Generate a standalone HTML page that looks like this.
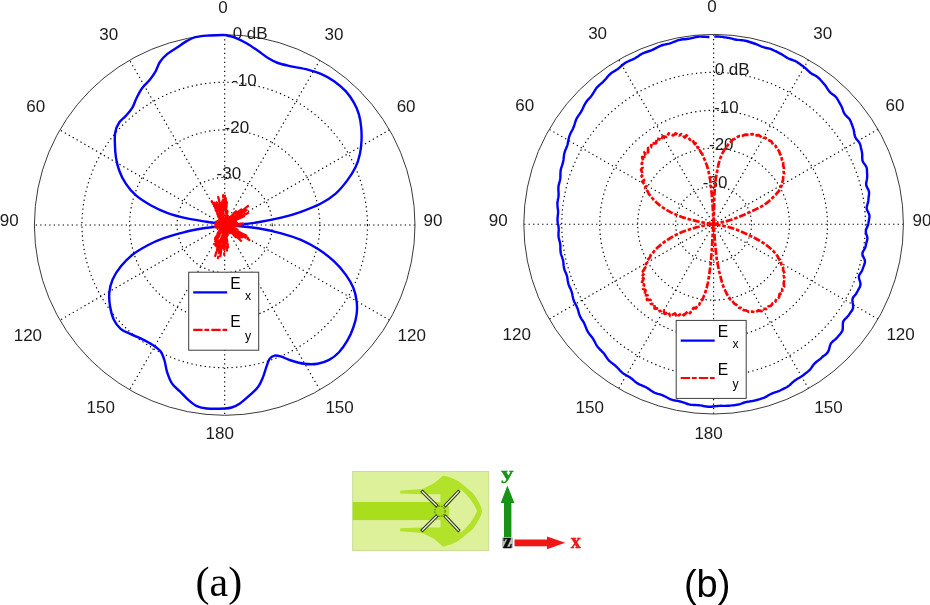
<!DOCTYPE html>
<html><head><meta charset="utf-8"><title>Radiation patterns</title>
<style>
html,body{margin:0;padding:0;background:#fff;}
body{width:930px;height:605px;overflow:hidden;position:relative;}
svg{position:absolute;left:0;top:0;display:block;will-change:transform;-webkit-font-smoothing:antialiased;}
.t text{font-family:"Liberation Sans",Arial,sans-serif;font-size:17.0px;fill:#1c1c1c;}
.t text.lg{font-size:15.7px;fill:#000;}
.t text.sub{font-size:12.3px;fill:#000;}
.dot{fill:none;stroke:#000;stroke-width:1.15;stroke-dasharray:1.3 3.2;}
.rim{fill:none;stroke:#3a3a3a;stroke-width:1;}
.blue{fill:none;stroke:#0000ff;stroke-width:2.4;stroke-linejoin:round;stroke-linecap:butt;}
.red{fill:none;stroke:#ff0000;stroke-width:2.2;stroke-dasharray:9.4 1.8 4.8 2.1;stroke-linejoin:round;}
.lobe{stroke-width:2.7;stroke-dasharray:7 1.8 3.6 1.8;}
.ax{font-family:"Liberation Serif",serif;font-weight:bold;font-size:20px;stroke-width:.5;}
.capa{font-family:"Liberation Serif","Times New Roman",serif;font-size:42px;fill:#000;}
.capb{font-family:"Liberation Sans",Arial,sans-serif;font-size:38px;fill:#000;}
</style></head><body>
<svg width="930" height="605" viewBox="0 0 930 605">
<defs>
<filter id="soft" x="-5%" y="-5%" width="110%" height="110%"><feGaussianBlur stdDeviation="0.55"/></filter>
<filter id="soft2" x="-10%" y="-10%" width="120%" height="120%"><feGaussianBlur stdDeviation="0.5"/></filter>
</defs>
<circle cx="224.7" cy="225.0" r="47.58" class="dot"/><circle cx="224.7" cy="225.0" r="95.15" class="dot"/><circle cx="224.7" cy="225.0" r="142.73" class="dot"/><line x1="224.7" y1="34.7" x2="224.7" y2="415.3" class="dot"/><line x1="319.8" y1="60.2" x2="129.6" y2="389.8" class="dot"/><line x1="389.5" y1="129.8" x2="59.9" y2="320.2" class="dot"/><line x1="415.0" y1="225.0" x2="34.4" y2="225.0" class="dot"/><line x1="389.5" y1="320.1" x2="59.9" y2="129.9" class="dot"/><line x1="319.8" y1="389.8" x2="129.6" y2="60.2" class="dot"/><circle cx="224.7" cy="225.0" r="190.30" class="rim"/>
<circle cx="713.6" cy="224.2" r="37.96" class="dot"/><circle cx="713.6" cy="224.2" r="75.92" class="dot"/><circle cx="713.6" cy="224.2" r="113.88" class="dot"/><circle cx="713.6" cy="224.2" r="151.84" class="dot"/><line x1="713.6" y1="34.4" x2="713.6" y2="414.0" class="dot"/><line x1="808.5" y1="59.8" x2="618.7" y2="388.6" class="dot"/><line x1="878.0" y1="129.3" x2="549.2" y2="319.1" class="dot"/><line x1="903.4" y1="224.2" x2="523.8" y2="224.2" class="dot"/><line x1="878.0" y1="319.1" x2="549.2" y2="129.3" class="dot"/><line x1="808.5" y1="388.6" x2="618.7" y2="59.8" class="dot"/><circle cx="713.6" cy="224.2" r="189.80" class="rim"/>
<g class="t"><text x="223.0" y="12.6" text-anchor="middle">0</text><text x="108.7" y="39.6" text-anchor="middle">30</text><text x="333.9" y="39.6" text-anchor="middle">30</text><text x="35.8" y="111.8" text-anchor="middle">60</text><text x="406.1" y="111.8" text-anchor="middle">60</text><text x="9.3" y="226.3" text-anchor="middle">90</text><text x="433.0" y="226.3" text-anchor="middle">90</text><text x="27.9" y="340.5" text-anchor="middle">120</text><text x="411.7" y="340.5" text-anchor="middle">120</text><text x="100.8" y="413.2" text-anchor="middle">150</text><text x="339.6" y="413.2" text-anchor="middle">150</text><text x="219.7" y="439.1" text-anchor="middle">180</text><text x="711.9" y="12.0" text-anchor="middle">0</text><text x="597.6" y="39.0" text-anchor="middle">30</text><text x="822.8" y="39.0" text-anchor="middle">30</text><text x="524.7" y="111.2" text-anchor="middle">60</text><text x="895.0" y="111.2" text-anchor="middle">60</text><text x="498.2" y="225.7" text-anchor="middle">90</text><text x="921.9" y="225.7" text-anchor="middle">90</text><text x="516.8" y="339.9" text-anchor="middle">120</text><text x="900.6" y="339.9" text-anchor="middle">120</text><text x="589.7" y="412.6" text-anchor="middle">150</text><text x="828.5" y="412.6" text-anchor="middle">150</text><text x="708.6" y="438.5" text-anchor="middle">180</text><text x="232.7" y="38.5">0 dB</text><text x="232.1" y="85.5">-10</text><text x="224.6" y="133.2">-20</text><text x="216.6" y="179.4">-30</text><text x="714.7" y="75.3">0 dB</text><text x="714.1" y="113.2">-10</text><text x="709.0" y="150.4">-20</text><text x="702.8" y="187.6">-30</text></g>
<path d="M224.7 34.9C226.4 35.4 231.3 36.2 234.9 37.6C238.5 39.0 242.7 41.0 246.5 43.2C250.3 45.4 254.4 48.3 258.0 50.8C261.6 53.3 264.7 56.0 268.0 58.0C271.3 60.0 274.0 61.6 277.9 63.0C281.8 64.4 286.2 65.2 291.1 66.3C296.1 67.4 302.6 68.3 307.6 69.6C312.6 70.9 316.5 72.0 320.9 73.9C325.3 75.8 330.0 78.3 334.1 81.2C338.2 84.1 342.4 87.5 345.7 91.1C349.0 94.7 351.7 98.8 353.9 102.7C356.1 106.6 357.7 110.2 358.9 114.3C360.1 118.4 360.8 123.1 361.2 127.5C361.6 131.9 361.7 136.3 361.5 140.7C361.3 145.1 360.9 149.5 359.9 153.9C358.9 158.3 357.7 162.7 355.6 167.1C353.5 171.5 350.6 176.0 347.3 180.4C344.0 184.8 340.1 189.8 335.7 193.6C331.3 197.4 326.7 200.5 320.9 203.5C315.1 206.5 307.6 209.4 301.0 211.8C294.4 214.2 288.4 215.9 281.2 217.7C274.0 219.4 264.6 221.2 258.0 222.3C251.4 223.4 247.1 223.9 241.5 224.3C235.9 224.8 225.2 224.7 224.7 225.0C224.1 225.3 232.6 225.4 238.2 226.0C243.8 226.6 250.8 227.1 258.0 228.3C265.2 229.5 274.0 231.4 281.2 233.3C288.4 235.2 294.7 237.2 301.0 239.9C307.3 242.7 313.7 246.2 319.2 249.8C324.7 253.4 329.7 257.3 334.1 261.4C338.5 265.5 342.5 270.2 345.7 274.6C348.9 279.0 351.5 283.4 353.3 287.8C355.1 292.2 356.1 296.6 356.6 301.0C357.2 305.4 357.2 309.9 356.6 314.3C356.1 318.7 354.9 323.1 353.3 327.5C351.8 331.9 349.7 336.6 347.3 340.7C344.9 344.8 342.0 349.1 339.0 352.3C336.0 355.5 332.7 358.0 329.1 359.9C325.5 361.8 321.7 363.1 317.6 363.8C313.5 364.5 308.7 364.4 304.3 363.8C299.9 363.2 295.0 361.7 291.1 360.5C287.2 359.3 283.9 357.4 281.2 356.6C278.4 355.8 276.5 355.2 274.6 355.6C272.7 356.0 271.0 357.0 269.6 358.9C268.2 360.8 267.4 364.1 266.3 367.1C265.2 370.1 264.4 373.8 263.0 377.1C261.6 380.4 260.2 384.0 258.0 387.0C255.8 390.0 252.8 392.4 249.8 395.2C246.8 397.9 242.9 401.4 239.9 403.5C236.9 405.6 234.1 406.7 231.6 407.5C229.1 408.3 228.8 408.3 224.7 408.5C220.6 408.7 211.4 408.9 206.8 408.5C202.2 408.1 199.9 407.6 196.9 406.2C193.9 404.8 191.3 402.6 188.6 400.2C185.8 397.8 183.2 394.6 180.4 391.9C177.7 389.1 174.3 387.0 172.1 383.7C169.9 380.4 168.4 376.0 167.1 372.1C165.8 368.2 165.6 364.0 164.5 360.5C163.4 357.0 162.5 353.9 160.5 351.3C158.5 348.7 155.6 346.9 152.3 344.7C149.0 342.5 144.3 340.2 140.7 338.4C137.1 336.6 134.1 335.7 130.8 334.1C127.5 332.6 123.8 331.6 120.9 329.1C118.0 326.6 115.4 323.1 113.6 319.2C111.8 315.3 110.7 310.4 110.0 306.0C109.3 301.6 108.9 297.2 109.3 292.8C109.7 288.4 110.7 283.9 112.6 279.5C114.5 275.1 117.6 270.4 120.9 266.3C124.2 262.2 128.0 258.3 132.4 254.8C136.8 251.3 142.1 248.3 147.3 245.5C152.5 242.7 157.7 240.4 163.8 238.2C169.9 236.0 177.1 234.0 183.7 232.3C190.3 230.7 196.7 229.5 203.5 228.3C210.3 227.1 224.1 226.1 224.7 225.0C225.2 223.9 213.1 222.8 206.8 221.7C200.5 220.6 193.6 219.9 187.0 218.4C180.4 216.9 173.2 215.0 167.1 212.8C161.0 210.6 155.8 208.1 150.6 205.2C145.4 202.3 139.8 198.8 135.7 195.2C131.6 191.6 128.5 187.8 125.8 183.7C123.0 179.6 120.8 174.9 119.2 170.5C117.6 166.1 116.6 161.6 115.9 157.2C115.2 152.8 115.0 148.1 114.9 144.0C114.8 139.9 114.5 136.0 115.2 132.4C115.9 128.8 117.4 125.2 119.2 122.5C121.0 119.8 123.6 118.4 125.8 115.9C128.0 113.4 130.6 110.6 132.4 107.6C134.2 104.6 135.0 101.0 136.7 97.7C138.4 94.4 140.2 90.8 142.4 87.8C144.6 84.8 147.8 82.2 150.0 79.5C152.2 76.8 153.9 74.2 155.6 71.3C157.2 68.4 158.0 64.9 159.9 62.0C161.8 59.1 164.2 56.5 167.1 54.1C169.9 51.7 173.7 49.7 177.0 47.5C180.3 45.3 184.0 42.6 187.0 40.9C190.0 39.2 191.9 38.1 195.2 37.2C198.5 36.3 201.9 36.0 206.8 35.6C211.7 35.2 221.7 35.0 224.7 34.9" class="blue"/>
<path d="M224.9 198.9L225.3 208.3L225.8 198.2L226.0 210.4L226.9 202.3L225.2 221.0L227.1 209.2L225.4 221.5L227.6 211.3L225.1 223.3L226.5 218.2L225.2 223.3L227.9 215.9L226.5 220.2L227.3 218.3L226.1 221.9L227.8 218.3L225.2 224.0L226.6 221.3L224.9 224.6L228.1 219.4L226.5 222.2L230.2 217.0L229.7 217.9L234.5 212.5L230.9 217.3L237.1 210.1L227.4 222.1L237.2 212.2L236.9 212.8L241.3 209.5L227.4 222.7L248.1 205.9L239.3 213.2L243.5 211.1L231.1 220.6L246.7 210.2L228.7 222.4L240.8 215.6L228.3 222.9L249.4 212.2L228.8 223.0L244.0 216.3L226.2 224.4L232.5 222.0L226.3 224.4L236.0 221.4L225.8 224.7L230.6 223.5L227.9 224.3L236.0 222.8L229.2 224.2L237.1 223.1L227.0 224.7L243.1 223.5L230.8 224.6L235.2 224.5L234.7 224.8L241.8 225.4L232.2 225.4L236.8 225.9L229.4 225.5L235.8 226.3L229.1 225.7L229.1 225.8L228.3 225.7L232.7 226.9L227.0 225.6L234.3 227.9L231.2 227.2L237.6 229.8L230.5 227.3L236.8 230.2L231.7 228.2L246.3 235.6L237.1 231.5L248.1 237.9L237.8 232.8L249.4 240.0L232.7 230.4L241.9 237.3L226.6 226.4L241.5 238.0L230.4 229.6L239.8 238.0L230.5 230.5L242.1 241.9L225.6 226.0L235.9 237.2L231.9 233.3L230.6 232.3L228.1 229.4L231.0 234.0L226.5 227.6L229.2 231.9L226.4 227.8L228.5 231.9L225.6 226.7L226.3 228.1L226.0 227.8L227.5 231.6L225.7 227.4L227.0 231.4L226.7 231.1L227.9 234.9L225.9 229.4L227.3 235.8L225.5 228.6L226.9 236.3L225.4 229.6L228.1 247.4L225.2 230.3L227.0 250.6L224.9 229.0L225.2 246.3L224.7 238.1L224.2 254.9L224.3 232.3L222.8 249.3L223.6 235.6L220.4 256.1L223.6 231.5L217.9 258.2L224.2 227.0L218.2 250.5L221.0 238.3L214.9 256.9L219.2 241.8L216.5 246.4L218.4 240.3L215.4 246.8L217.9 240.0L214.8 244.7L221.9 230.4L214.5 242.5L222.6 228.4L214.5 240.6L220.0 231.7L215.1 238.1L220.2 230.9L217.6 233.5L223.8 226.1L217.9 232.7L222.8 227.0L219.2 230.5L223.0 226.6L221.3 228.0L221.3 227.9L219.7 229.0L222.5 226.6L219.7 228.7L223.7 225.6L218.8 228.6L221.7 226.8L218.3 228.6L222.0 226.4L219.3 227.6L223.4 225.6L217.2 228.2L223.8 225.4L217.1 227.7L221.8 226.0L216.1 227.7L223.9 225.2L215.2 227.2L223.6 225.2L216.2 226.4L220.8 225.6L218.3 225.8L222.3 225.2L218.8 225.3L219.8 225.2L215.3 225.1L221.0 224.9L217.3 224.8L223.1 224.9L215.2 224.1L224.2 224.9L215.3 223.5L221.7 224.5L218.9 223.8L222.2 224.4L219.0 223.5L223.4 224.6L218.7 223.0L219.6 223.2L216.0 221.6L222.0 223.8L219.8 222.8L221.2 223.3L219.8 222.5L223.3 224.2L219.0 221.6L223.0 224.0L219.8 221.7L223.7 224.3L218.8 220.4L222.8 223.4L221.5 222.4L222.8 223.4L219.1 219.7L222.9 223.3L220.7 220.7L220.0 220.0L218.9 218.4L223.9 224.0L217.0 215.1L223.9 223.9L217.4 214.4L220.3 218.4L215.5 210.2L217.3 211.9L211.7 201.1L220.0 215.6L213.6 201.4L219.0 211.4L216.0 203.5L222.6 219.5L216.7 202.4L219.4 208.4L219.0 205.5L223.9 221.7L218.2 196.9L221.6 210.1L221.0 203.4L224.2 221.4L222.3 201.2L223.3 206.7L223.1 195.1L224.3 209.0L224.9 194.7" class="red"/>
<path d="M714.3 36.6L715.9 36.5L717.5 36.5L719.2 36.6L720.8 36.8L722.4 36.9L724.1 37.2L725.7 37.4L727.3 37.7L728.9 37.9L730.5 38.3L732.1 38.7L733.7 39.2L735.3 39.5L736.9 39.8L738.5 39.9L740.1 40.1L741.8 40.2L743.4 40.4L745.0 40.7L746.6 41.0L748.1 41.5L749.7 42.0L751.2 42.5L752.8 43.0L754.3 43.5L755.9 44.0L757.4 44.7L758.9 45.3L760.4 46.0L761.8 46.6L763.4 47.2L764.9 47.6L766.5 48.0L768.0 48.3L769.6 48.7L771.1 49.2L772.6 49.8L774.1 50.5L775.5 51.2L777.0 51.9L778.4 52.6L779.9 53.4L781.3 54.1L782.7 55.0L784.0 55.8L785.4 56.7L786.7 57.6L788.1 58.3L789.6 59.0L791.1 59.5L792.6 60.0L794.1 60.6L795.6 61.2L797.0 62.0L798.3 62.9L799.6 63.8L800.9 64.7L802.2 65.7L803.5 66.6L804.8 67.6L806.0 68.6L807.1 69.8L808.3 70.9L809.5 72.0L810.7 73.0L812.0 73.9L813.4 74.6L814.8 75.3L816.1 76.1L817.4 77.0L818.6 78.0L819.8 79.1L820.8 80.3L821.9 81.5L823.0 82.7L824.0 83.9L825.0 85.1L826.0 86.4L826.9 87.8L827.7 89.1L828.6 90.5L829.6 91.7L830.7 92.8L831.9 93.8L833.1 94.7L834.4 95.6L835.5 96.6L836.5 97.8L837.4 99.1L838.2 100.5L839.0 101.9L839.7 103.2L840.5 104.6L841.3 106.0L841.9 107.4L842.5 108.9L843.0 110.5L843.6 112.0L844.3 113.4L845.1 114.6L846.1 115.7L847.2 116.8L848.3 117.8L849.3 118.9L850.1 120.2L850.8 121.6L851.3 123.0L851.9 124.5L852.4 125.9L852.9 127.4L853.4 128.8L853.8 130.3L854.1 131.9L854.3 133.5L854.6 135.1L855.0 136.5L855.6 137.9L856.4 139.1L857.4 140.2L858.4 141.3L859.2 142.5L859.9 143.8L860.4 145.2L860.7 146.6L861.0 148.1L861.4 149.6L861.7 151.0L862.0 152.5L862.2 154.0L862.3 155.5L862.2 157.1L862.3 158.6L862.4 160.1L862.8 161.5L863.5 162.7L864.4 163.9L865.3 165.1L866.0 166.3L866.6 167.6L866.9 169.0L867.0 170.5L867.0 172.0L867.1 173.4L867.2 174.9L867.2 176.4L867.1 177.8L866.9 179.4L866.6 180.9L866.3 182.4L866.1 183.9L866.3 185.3L866.7 186.6L867.3 187.9L868.0 189.1L868.6 190.4L869.0 191.7L869.1 193.1L869.0 194.6L868.8 196.0L868.6 197.4L868.5 198.8L868.4 200.2L868.2 201.7L867.8 203.1L867.4 204.5L867.0 205.9L866.7 207.3L866.7 208.6L867.1 210.0L867.7 211.3L868.4 212.6L869.0 213.9L869.4 215.2L869.5 216.6L869.3 217.9L869.1 219.3L868.8 220.7L868.6 222.0L868.4 223.4L868.1 224.7L867.6 226.1L867.0 227.4L866.4 228.7L866.0 230.1L865.8 231.4L865.9 232.7L866.3 234.1L866.8 235.5L867.2 236.8L867.4 238.2L867.3 239.5L867.0 240.9L866.6 242.2L866.2 243.5L865.9 244.8L865.7 246.1L865.3 247.4L864.7 248.7L864.0 249.9L863.2 251.1L862.6 252.4L862.4 253.7L862.6 255.1L863.2 256.5L863.9 258.1L864.6 259.6L865.0 261.1L864.9 262.5L864.6 263.8L864.1 265.1L863.6 266.4L863.1 267.6L862.7 268.9L862.2 270.2L861.6 271.4L860.8 272.6L860.0 273.8L859.3 274.9L858.9 276.2L858.9 277.6L859.2 279.2L859.8 280.9L860.3 282.6L860.5 284.1L860.3 285.6L859.9 286.9L859.2 288.1L858.5 289.3L857.9 290.5L857.2 291.8L856.6 293.0L855.8 294.2L854.9 295.3L854.0 296.3L853.1 297.5L852.6 298.7L852.4 300.2L852.5 301.8L852.8 303.6L853.1 305.4L853.1 307.0L852.9 308.6L852.3 309.9L851.6 311.1L850.7 312.2L849.9 313.4L849.1 314.6L848.3 315.8L847.4 316.8L846.4 317.9L845.3 318.8L844.3 319.9L843.5 321.0L843.0 322.5L842.8 324.1L842.8 325.9L842.8 327.7L842.7 329.5L842.2 331.0L841.5 332.3L840.6 333.4L839.7 334.6L838.7 335.7L837.8 336.8L836.8 337.9L835.8 339.0L834.7 339.9L833.5 340.8L832.4 341.7L831.4 342.8L830.6 344.1L830.0 345.6L829.6 347.3L829.2 349.0L828.6 350.6L827.9 352.0L827.0 353.2L825.9 354.3L824.7 355.2L823.4 356.0L822.3 357.0L821.2 358.1L820.1 359.1L818.9 360.0L817.7 360.9L816.5 361.8L815.4 362.7L814.3 363.8L813.3 365.0L812.4 366.3L811.5 367.7L810.5 369.0L809.5 370.2L808.4 371.2L807.2 372.2L805.9 373.1L804.7 374.0L803.5 375.0L802.2 375.9L801.0 376.8L799.7 377.6L798.3 378.3L797.0 379.1L795.7 379.9L794.4 380.8L793.2 381.8L792.0 382.9L790.9 384.0L789.7 385.1L788.4 386.1L787.1 387.0L785.7 387.7L784.3 388.4L782.9 389.1L781.5 389.8L780.1 390.5L778.7 391.1L777.2 391.7L775.7 392.2L774.3 392.7L772.8 393.2L771.3 393.8L769.9 394.5L768.5 395.3L767.2 396.1L765.7 396.9L764.3 397.6L762.8 398.2L761.3 398.7L759.8 399.2L758.3 399.6L756.8 400.0L755.2 400.4L753.7 400.8L752.2 401.1L750.6 401.3L749.0 401.6L747.5 401.8L745.9 402.1L744.4 402.5L742.9 403.0L741.4 403.6L739.8 404.1L738.3 404.5L736.7 404.8L735.2 405.1L733.6 405.3L732.0 405.4L730.4 405.6L728.8 405.7L727.3 405.8L725.7 405.9L724.1 405.9L722.5 405.9L720.9 405.8L719.3 405.9L717.7 406.0L716.1 406.1L714.6 406.3L713.0 406.5L711.4 406.7L709.8 406.7L708.2 406.7L706.6 406.5L705.0 406.3L703.4 406.0L701.9 405.6L700.3 405.4L698.7 405.2L697.1 405.1L695.6 405.0L694.0 405.0L692.4 404.9L690.8 404.7L689.2 404.4L687.7 404.0L686.2 403.5L684.7 402.9L683.1 402.4L681.6 401.9L680.1 401.5L678.6 401.1L677.0 400.8L675.5 400.6L673.9 400.3L672.4 399.9L670.9 399.4L669.4 398.8L668.0 398.0L666.6 397.3L665.2 396.5L663.7 395.8L662.3 395.2L660.8 394.7L659.3 394.2L657.8 393.8L656.4 393.3L654.9 392.8L653.5 392.1L652.1 391.3L650.8 390.4L649.5 389.5L648.2 388.6L646.8 387.8L645.5 387.0L644.1 386.4L642.7 385.8L641.3 385.2L639.8 384.6L638.5 383.9L637.1 383.1L635.9 382.2L634.6 381.2L633.4 380.2L632.3 379.1L631.0 378.2L629.8 377.3L628.5 376.5L627.2 375.7L625.8 375.0L624.5 374.2L623.2 373.4L622.0 372.5L620.9 371.4L619.8 370.3L618.8 369.1L617.7 368.0L616.6 366.9L615.5 365.8L614.4 364.9L613.2 364.0L612.0 363.1L610.8 362.2L609.6 361.2L608.6 360.1L607.6 358.9L606.7 357.6L605.8 356.3L605.0 355.0L604.1 353.8L603.1 352.6L602.1 351.6L601.1 350.5L600.0 349.5L599.0 348.4L598.0 347.3L597.1 346.1L596.3 344.8L595.6 343.5L594.9 342.1L594.2 340.8L593.4 339.4L592.6 338.2L591.8 337.0L590.9 335.9L589.9 334.8L589.1 333.6L588.2 332.4L587.5 331.2L586.8 329.8L586.3 328.4L585.7 327.0L585.2 325.6L584.6 324.2L584.0 322.9L583.3 321.7L582.5 320.5L581.7 319.3L581.0 318.1L580.3 316.9L579.7 315.6L579.2 314.2L578.8 312.8L578.4 311.3L578.0 309.9L577.6 308.5L577.0 307.2L576.5 306.0L575.8 304.7L575.1 303.5L574.5 302.3L573.9 301.0L573.5 299.7L573.1 298.3L572.8 296.9L572.5 295.5L572.3 294.0L571.9 292.7L571.5 291.4L571.0 290.1L570.5 288.8L569.9 287.6L569.3 286.4L568.8 285.1L568.4 283.8L568.1 282.4L567.8 281.0L567.6 279.6L567.4 278.3L567.2 276.9L566.8 275.6L566.4 274.3L565.9 273.1L565.3 271.8L564.8 270.5L564.4 269.3L564.0 267.9L563.8 266.6L563.6 265.2L563.5 263.9L563.4 262.5L563.2 261.1L562.9 259.8L562.5 258.5L562.1 257.2L561.6 255.9L561.2 254.7L560.8 253.3L560.6 252.0L560.5 250.7L560.4 249.3L560.4 247.9L560.4 246.5L560.3 245.2L560.2 243.9L559.9 242.5L559.6 241.2L559.2 239.9L558.9 238.6L558.6 237.2L558.5 235.9L558.5 234.5L558.5 233.1L558.6 231.8L558.7 230.4L558.7 229.1L558.6 227.7L558.5 226.4L558.2 225.0L557.9 223.7L557.7 222.3L557.5 220.9L557.5 219.6L557.5 218.2L557.7 216.8L557.8 215.5L558.0 214.1L558.1 212.8L558.1 211.4L558.0 210.0L557.8 208.7L557.6 207.3L557.5 205.9L557.4 204.5L557.4 203.1L557.5 201.7L557.8 200.4L558.0 199.0L558.3 197.7L558.5 196.3L558.6 194.9L558.6 193.5L558.5 192.1L558.4 190.6L558.4 189.2L558.4 187.8L558.5 186.4L558.7 185.0L559.1 183.7L559.4 182.3L559.8 181.0L560.1 179.6L560.3 178.2L560.4 176.8L560.4 175.3L560.4 173.8L560.5 172.4L560.6 170.9L560.8 169.5L561.2 168.1L561.6 166.8L562.1 165.4L562.5 164.1L562.9 162.7L563.2 161.3L563.5 159.9L563.6 158.4L563.8 156.9L564.0 155.4L564.2 153.9L564.6 152.5L565.0 151.1L565.5 149.7L566.1 148.4L566.7 147.1L567.2 145.7L567.6 144.3L567.9 142.8L568.2 141.3L568.5 139.7L568.8 138.2L569.2 136.7L569.7 135.3L570.3 133.9L570.9 132.6L571.6 131.3L572.3 130.0L573.0 128.6L573.6 127.3L574.1 125.8L574.6 124.3L575.0 122.8L575.5 121.3L576.1 119.8L576.7 118.4L577.5 117.1L578.3 115.8L579.2 114.6L580.1 113.3L580.9 112.1L581.7 110.7L582.4 109.3L583.0 107.9L583.7 106.4L584.4 105.0L585.2 103.6L586.0 102.3L586.9 101.0L587.9 99.8L589.0 98.7L590.0 97.6L591.0 96.4L592.0 95.1L592.8 93.8L593.7 92.4L594.5 91.0L595.4 89.6L596.3 88.3L597.3 87.1L598.4 86.0L599.6 84.9L600.8 83.9L602.0 82.8L603.1 81.8L604.2 80.6L605.3 79.5L606.4 78.2L607.4 76.9L608.5 75.7L609.6 74.6L610.8 73.5L612.1 72.5L613.4 71.7L614.8 70.9L616.1 70.0L617.5 69.2L618.8 68.2L620.0 67.2L621.2 66.2L622.5 65.1L623.7 64.0L625.0 63.1L626.4 62.2L627.8 61.5L629.3 60.8L630.8 60.2L632.2 59.6L633.7 58.9L635.1 58.2L636.5 57.3L637.9 56.4L639.2 55.5L640.6 54.6L642.0 53.8L643.4 53.1L644.9 52.5L646.5 52.0L648.0 51.5L649.5 51.0L651.1 50.5L652.5 49.9L654.0 49.1L655.4 48.4L656.9 47.6L658.3 46.8L659.8 46.1L661.3 45.5L662.9 45.0L664.5 44.6L666.1 44.3L667.7 43.9L669.2 43.6L670.8 43.1L672.3 42.5L673.9 41.9L675.4 41.3L676.9 40.7L678.5 40.2L680.1 39.8L681.7 39.5L683.3 39.3L685.0 39.2L686.6 39.0L688.2 38.8L689.8 38.6L691.4 38.2L693.0 37.8L694.6 37.4L696.2 37.0L697.9 36.8L699.5 36.6L701.1 36.6L702.8 36.7L704.4 36.8L706.1 36.9L707.7 37.0L709.4 37.0" class="blue"/>
<path d="M713.6 224.2L713.7 222.3L713.7 219.9L713.8 216.9L713.9 213.6L714.0 210.1L714.1 206.4L714.2 202.8L714.3 199.2L714.4 195.9L714.5 192.8L714.7 190.3L714.9 186.5L715.2 183.5L715.5 180.9L715.8 178.6L716.2 176.3L716.6 173.8L717.2 170.9L717.7 168.1L718.3 165.2L719.0 162.4L719.8 159.6L720.6 157.4L722.1 153.8L723.6 151.1L725.4 147.9L727.2 146.1L729.2 142.9L731.1 141.6L733.3 139.3L735.3 138.7L738.8 136.1L741.9 136.0L745.5 134.6L748.6 134.9L752.2 134.1L755.2 135.4L759.0 135.2L761.7 137.3L765.4 137.9L768.1 139.9L771.2 141.2L773.1 144.5L775.6 145.9L776.9 148.9L779.0 150.9L780.0 154.1L781.5 156.5L781.9 159.9L783.2 162.3L783.2 165.7L784.0 168.2L783.6 171.5L784.1 173.9L783.1 177.3L783.1 179.9L781.8 183.3L781.5 185.8L779.8 188.8L778.9 190.9L777.0 193.1L775.7 194.8L773.4 196.9L771.5 198.9L769.2 201.0L766.6 203.1L763.6 205.2L761.2 206.6L758.6 208.0L755.7 209.4L752.8 210.8L749.9 212.1L747.1 213.4L744.3 214.7L741.6 215.8L738.8 217.0L736.1 218.1L733.3 219.1L730.5 220.0L727.5 220.9L724.3 221.8L721.0 222.5L718.0 223.2L715.4 223.8L713.6 224.2" class="red lobe"/>
<path d="M713.6 224.2L715.4 224.5L718.0 225.0L721.0 225.5L724.3 226.1L727.5 226.8L730.5 227.6L733.3 228.5L736.1 229.5L738.8 230.6L741.6 231.8L744.3 233.0L747.1 234.3L749.9 235.6L752.8 237.0L755.6 238.5L758.4 240.0L761.1 241.6L763.6 243.2L766.3 245.1L768.8 247.0L771.0 248.9L773.4 251.1L775.1 253.1L777.4 255.9L778.6 258.5L781.0 262.0L781.3 264.4L783.2 267.8L783.0 270.0L784.7 273.6L783.8 275.8L784.7 279.8L783.7 282.6L784.0 286.7L782.2 288.9L782.3 292.9L779.5 294.1L779.0 297.6L776.4 298.9L775.2 301.9L772.7 303.3L771.0 305.7L768.2 306.5L766.5 308.8L763.4 308.9L761.6 311.1L758.3 310.4L755.6 312.2L751.8 311.5L748.8 311.9L746.0 310.4L743.8 310.2L741.0 307.8L739.1 307.9L736.4 304.7L734.6 304.0L732.3 300.9L730.7 300.0L728.6 296.4L727.0 294.4L725.3 290.7L723.9 288.0L722.9 285.3L722.1 282.8L721.4 280.2L720.7 277.5L720.0 274.6L719.3 272.0L718.7 269.3L718.2 266.5L717.6 263.7L717.1 260.9L716.6 258.1L716.3 255.3L716.0 252.6L715.7 249.8L715.5 247.1L715.2 244.3L715.0 241.5L714.7 238.5L714.5 235.2L714.2 231.8L714.0 228.7L713.8 226.1L713.6 224.2" class="red lobe"/>
<path d="M713.6 224.2L711.7 224.5L709.1 224.8L706.0 225.3L702.6 225.9L699.1 226.7L696.5 227.3L693.8 228.1L690.8 229.0L687.8 230.0L684.9 231.0L682.0 232.1L679.3 233.3L676.3 234.7L673.4 236.3L670.5 237.9L667.8 239.6L665.2 241.4L662.8 243.2L660.0 245.4L657.6 247.6L655.0 250.0L653.4 252.2L650.7 255.0L650.1 257.0L647.6 260.2L647.0 262.5L644.4 266.1L645.3 267.5L642.8 271.5L644.5 272.7L641.4 277.4L643.7 278.5L641.5 283.3L644.1 284.5L643.1 288.9L645.6 290.1L644.3 295.0L647.6 295.3L646.9 299.9L650.5 299.9L650.9 303.9L654.3 304.2L654.7 308.7L658.4 308.4L659.8 311.3L663.6 310.3L664.6 313.9L668.5 312.2L670.2 316.0L675.0 313.4L676.9 316.7L681.4 313.4L683.8 315.3L687.9 311.4L690.0 313.1L693.7 307.9L695.7 308.4L697.8 305.2L699.2 304.7L701.2 300.3L702.3 300.1L703.8 296.1L704.8 294.5L705.8 290.7L706.7 288.0L707.3 285.3L707.9 282.8L708.4 280.1L708.8 277.2L709.3 274.3L709.7 271.3L710.0 268.6L710.4 265.8L710.7 262.8L711.0 259.9L711.2 257.0L711.5 254.1L711.7 251.4L711.9 248.4L712.1 245.5L712.2 242.6L712.4 239.9L712.5 237.3L712.7 234.9L712.9 231.6L713.2 228.5L713.4 226.0L713.6 224.2" class="red lobe"/>
<path d="M713.6 224.2L711.7 223.9L709.1 223.5L706.0 223.0L702.6 222.4L699.1 221.7L696.5 221.1L693.8 220.4L690.8 219.7L687.8 218.9L684.9 218.0L682.0 217.1L679.3 216.1L676.3 214.8L673.4 213.5L670.5 212.1L667.8 210.6L665.2 209.1L662.8 207.5L660.0 205.5L657.5 203.4L655.3 201.3L653.0 199.0L651.5 197.1L648.8 193.9L647.7 191.4L645.1 187.9L645.8 186.0L642.3 181.6L644.2 180.3L641.5 176.0L643.0 174.5L641.0 169.7L642.6 167.5L641.7 163.4L643.4 161.6L642.1 157.0L645.8 156.8L644.5 152.1L648.2 152.3L648.0 148.1L650.9 147.5L651.7 143.0L656.1 143.3L656.8 138.5L661.4 139.9L662.8 136.3L666.8 137.0L668.6 133.5L673.3 135.5L675.7 133.3L679.3 135.5L681.3 134.1L684.8 137.6L686.5 135.3L690.2 140.0L692.3 139.7L694.7 144.2L695.7 143.2L697.8 148.0L698.9 147.8L700.8 152.3L702.2 153.9L703.8 157.9L705.0 160.3L706.0 163.1L706.9 165.5L707.7 168.2L708.4 170.9L709.0 173.8L709.5 176.3L710.0 179.0L710.4 181.8L710.7 184.7L711.0 187.5L711.4 190.3L711.6 193.0L711.9 195.8L712.1 198.5L712.3 201.2L712.5 204.0L712.7 206.8L712.9 209.9L713.0 213.2L713.2 216.5L713.4 219.7L713.5 222.3L713.6 224.2" class="red lobe"/>
<g class="t"><rect x="188.7" y="272.2" width="70" height="78" fill="#fff" stroke="#3c3c3c" stroke-width="1"/><line x1="193.2" y1="292.4" x2="227.2" y2="292.4" class="blue"/><line x1="193.2" y1="329.8" x2="227.2" y2="329.8" class="red"/><text x="230.3" y="288.8" class="lg">E</text><text x="244.9" y="299.7" class="sub">x</text><text x="230.3" y="326.8" class="lg">E</text><text x="244.9" y="339.7" class="sub">y</text><rect x="676.2" y="320.4" width="70" height="78" fill="#fff" stroke="#3c3c3c" stroke-width="1"/><line x1="680.7" y1="340.6" x2="714.7" y2="340.6" class="blue"/><line x1="680.7" y1="378.0" x2="714.7" y2="378.0" class="red"/><text x="717.8" y="337.0" class="lg">E</text><text x="732.4" y="347.9" class="sub">x</text><text x="717.8" y="375.0" class="lg">E</text><text x="732.4" y="387.9" class="sub">y</text></g>

<g filter="url(#soft)">
<rect x="352.7" y="471.5" width="136" height="79" fill="#ddf09a" stroke="#c9de92" stroke-width="1"/>
<g transform="translate(345 465) scale(0.17204)">
<path d="M320 150 L450 140 L520 105 L570 62 Q620 70 660 95 L740 160 Q790 225 797 268 Q790 312 740 375 L660 440 Q620 465 570 475 L520 430 L450 395 L320 385 L322 368 L450 364 L555 364 L555 320 L520 320 L520 215 L555 215 L555 170 L450 170 L322 166 Z" fill="#b2e22a"/>
<path d="M600 235 L674 143 Q738 196 768 268 Q738 340 674 393 L600 300 Q612 268 600 235 Z" fill="#ddf09a"/>
<rect x="45" y="215" width="490" height="105" fill="#a8de1c"/>
<g stroke="#2f3a12" stroke-width="6" fill="#e6ecd6">
<path d="M441 156 L451 146 L540 234 L530 244 Z"/><path d="M441 378 L451 388 L540 300 L530 290 Z"/>
<path d="M668 156 L658 146 L575 234 L585 244 Z"/><path d="M668 378 L658 388 L575 300 L585 290 Z"/>
</g>
<circle cx="552" cy="268" r="30" fill="#a8de1c" stroke="#4f6a10" stroke-width="6" stroke-dasharray="9 7"/>
</g>
</g>
<g filter="url(#soft2)">
<path d="M504 537 L504 503 L500.7 503 L507.4 485.6 L514.4 503 L511.4 503 L511.4 537 Z" fill="#149414"/>
<path d="M514.5 539.4 L547 539.4 L547 536.4 L565.2 542.8 L547 549.3 L547 546.3 L514.5 546.3 Z" fill="#f01414"/>
<rect x="502" y="537.5" width="11" height="10.5" fill="#8c8c8c" opacity=".55"/>
<text transform="translate(507.4 479.2) scale(1.22 0.86)" text-anchor="middle" class="ax" fill="#149414" stroke="#149414">y</text>
<text x="507.4" y="547.8" text-anchor="middle" class="ax" fill="#111" stroke="#111">z</text>
<text x="575.8" y="547.8" text-anchor="middle" class="ax" fill="#f01414" stroke="#f01414">x</text>
</g>

<text x="195.6" y="596.0" class="capa">(a)</text>
<text x="683.9" y="597.0" class="capb">(b)</text>
</svg>
</body></html>
